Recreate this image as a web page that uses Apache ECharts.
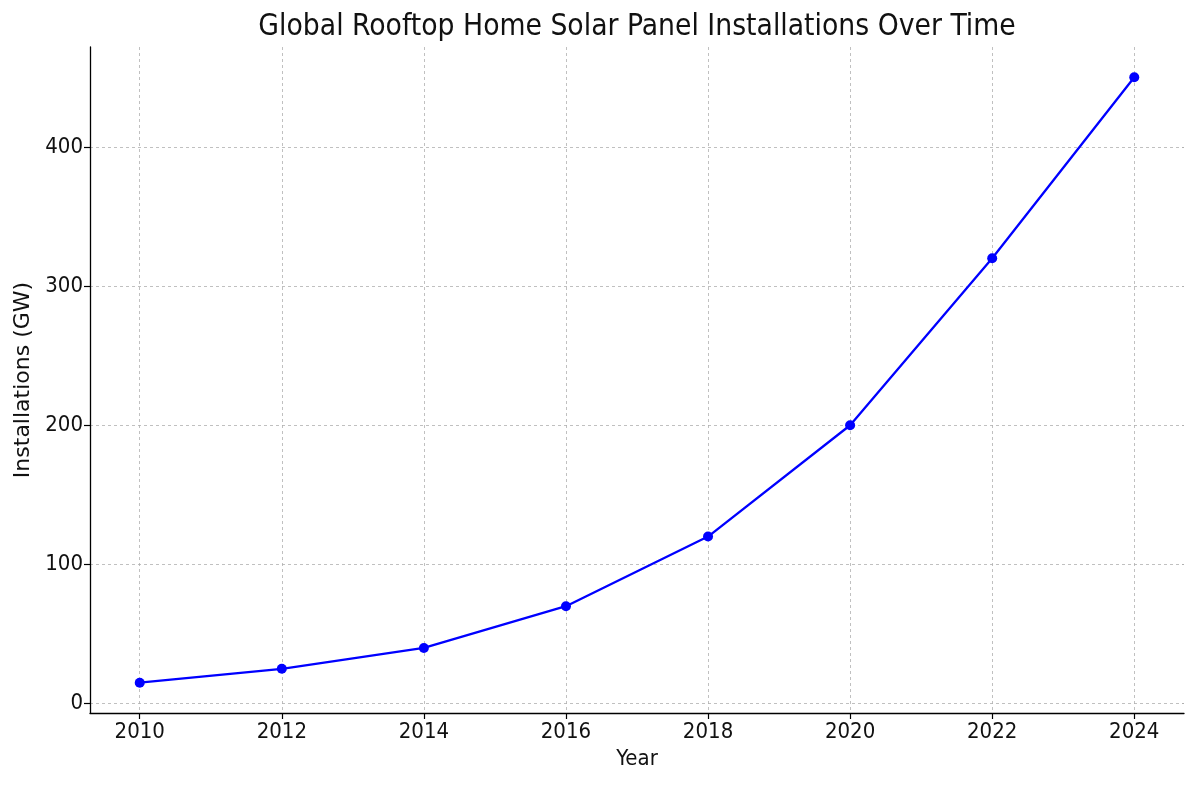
<!DOCTYPE html>
<html>
<head>
<meta charset="utf-8">
<script src="https://cdn.jsdelivr.net/npm/echarts@6/dist/echarts.min.js"></script>
<style>
html,body{margin:0;padding:0;background:#fff;}
#chart{width:1200px;height:800px;}
</style>
</head>
<body>
<div id="chart"></div>
<script>
const years = [2010, 2012, 2014, 2016, 2018, 2020, 2022, 2024];
const installationsGW = [15, 25, 40, 70, 120, 200, 320, 450];
const xTicks = [2010, 2012, 2014, 2016, 2018, 2020, 2022, 2024];
const yTicks = [0, 100, 200, 300, 400];
const titleText = 'Global Rooftop Home Solar Panel Installations Over Time';

const condensed = "'DejaVu Sans Condensed', 'DejaVu Sans', sans-serif";
const regular = "'DejaVu Sans', sans-serif";

const chart = echarts.init(document.getElementById('chart'), null, {renderer: 'canvas'});
const gridLine = {show: true, lineStyle: {color: '#b0b0b0', width: 0.8, type: [3, 3]}};
chart.setOption({
  animation: false,
  backgroundColor: '#ffffff',
  graphic: [{
    type: 'text',
    x: 637,
    y: 27,
    style: {
      text: titleText,
      x: 0,
      y: 0,
      align: 'center',
      verticalAlign: 'middle',
      font: "normal 29.7px 'DejaVu Sans Condensed', 'DejaVu Sans', sans-serif",
      fill: '#111'
    }
  }],
  grid: {left: 90, right: 16, top: 47, bottom: 87, containLabel: false},
  xAxis: {
    type: 'value',
    min: 2009.3,
    max: 2024.7,
    name: 'Year',
    nameLocation: 'middle',
    nameGap: 32,
    nameTextStyle: {fontFamily: condensed, fontSize: 22, color: '#111'},
    axisLine: {show: true, onZero: false, lineStyle: {color: '#000', width: 1.3}},
    axisTick: {show: true, inside: false, length: 6, customValues: xTicks, lineStyle: {color: '#000', width: 1.2}},
    axisLabel: {customValues: xTicks, margin: 8, fontFamily: condensed, fontSize: 22, color: '#111', formatter: v => String(v)},
    splitLine: gridLine
  },
  yAxis: {
    type: 'value',
    min: -6.75,
    max: 471.75,
    name: 'Installations (GW)',
    nameLocation: 'middle',
    nameGap: 51,
    nameTextStyle: {fontFamily: regular, fontSize: 22, color: '#111'},
    axisLine: {show: true, onZero: false, lineStyle: {color: '#000', width: 1.3}},
    axisTick: {show: true, inside: false, length: 6, customValues: yTicks, lineStyle: {color: '#000', width: 1.2}},
    axisLabel: {customValues: yTicks, margin: 7, fontFamily: condensed, fontSize: 22, color: '#111'},
    splitLine: gridLine
  },
  series: [{
    type: 'line',
    data: years.map((y, i) => [y, installationsGW[i]]),
    symbol: 'circle',
    symbolSize: 10,
    lineStyle: {color: '#0000ff', width: 2.3},
    itemStyle: {color: '#0000ff'},
    z: 3
  }]
});
</script>
</body>
</html>
